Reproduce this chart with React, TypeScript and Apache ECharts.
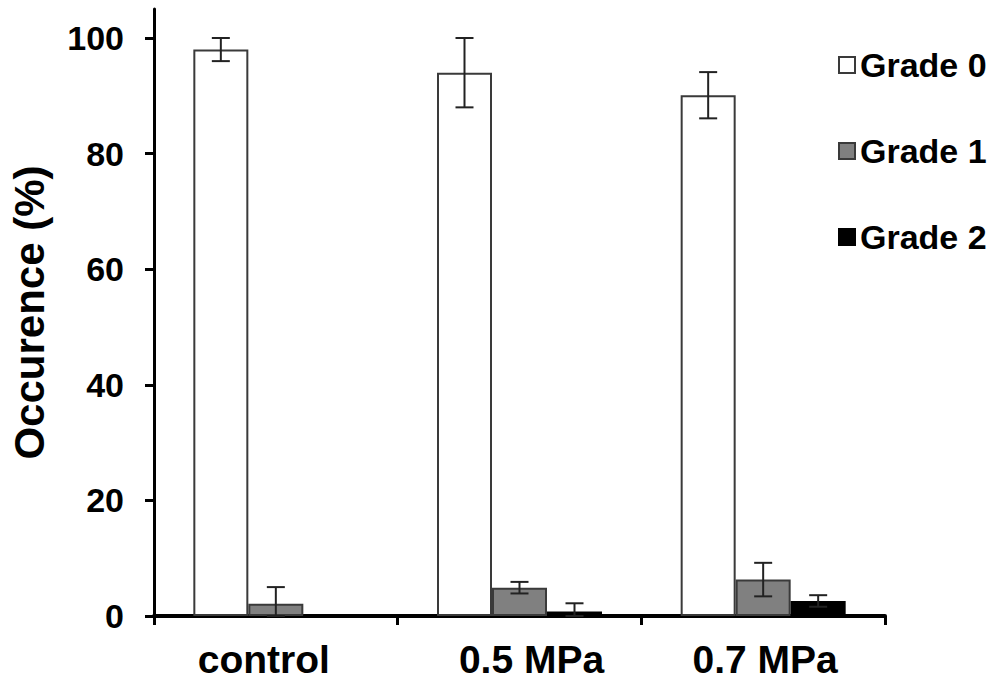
import React, { useEffect, useRef } from "react";
import * as echarts from "echarts";

const categories = ["control", "0.5 MPa", "0.7 MPa"];
const seriesNames = ["Grade 0", "Grade 1", "Grade 2"];
const grade0 = [98, 94, 90.1];
const grade1 = [2.1, 4.9, 6.3];
const grade2 = [0, 0.8, 2.6];
const grade0Err = [2, 6, 4];
const grade1Err = [2.9, 1, 2.9];
const grade2Err = [0, 1.4, 1];
const yTicks = [0, 20, 40, 60, 80, 100];

const fills = ["#ffffff", "#808080", "#000000"];
const FONT = "'Liberation Sans', Arial, sans-serif";
const BAR_W = 55;

export default function App() {
  const ref = useRef<HTMLDivElement>(null);
  useEffect(() => {
    if (!ref.current) return;
    const chart = echarts.init(ref.current, null, { renderer: "svg" });
    const values = [grade0, grade1, grade2];
    const errs = [grade0Err, grade1Err, grade2Err];

    const barSeries = seriesNames.map((name, i) => ({
      name,
      type: "bar",
      data: values[i],
      barWidth: BAR_W,
      barGap: "0%",
      itemStyle: {
        color: fills[i],
        borderColor: i === 2 ? "#000" : "#3a3a3a",
        borderWidth: 2,
      },
    }));

    const errSeries = seriesNames.map((name, i) => ({
      name: name + " err",
      type: "custom",
      z: 5,
      data: values[i].map((v, k) => [k, v, errs[i][k]]),
      encode: { x: 0, y: 1 },
      renderItem: (params: any, api: any) => {
        const idx = api.value(0);
        const v = api.value(1);
        const e = api.value(2);
        if (!e) return null;
        const top = api.coord([idx, v + e]);
        const bot = api.coord([idx, Math.max(0, v - e)]);
        const x = top[0] + (i - 1) * BAR_W;
        const cap = 9;
        const st = { stroke: "#222", lineWidth: 2 };
        return {
          type: "group",
          children: [
            { type: "line", shape: { x1: x, y1: top[1], x2: x, y2: bot[1] }, style: st },
            { type: "line", shape: { x1: x - cap, y1: top[1], x2: x + cap, y2: top[1] }, style: st },
            { type: "line", shape: { x1: x - cap, y1: bot[1], x2: x + cap, y2: bot[1] }, style: st },
          ],
        };
      },
    }));

    const xFont = { fontFamily: FONT, fontWeight: "bold", fontSize: 39, color: "#000" };

    chart.setOption({
      animation: false,
      backgroundColor: "#ffffff",
      textStyle: { fontFamily: FONT },
      grid: { left: 150, right: 109, top: 9.1, bottom: 68, containLabel: false },
      legend: {
        data: seriesNames,
        orient: "vertical",
        left: 833,
        top: 43,
        itemGap: 52,
        itemWidth: 16,
        itemHeight: 16,
        icon: "rect",
        textStyle: { fontFamily: FONT, fontWeight: "bold", fontSize: 34, color: "#000" },
      },
      xAxis: {
        type: "category",
        data: categories,
        axisLine: { lineStyle: { color: "#000", width: 4 } },
        axisTick: { show: true, length: 9, lineStyle: { color: "#000", width: 3 } },
        axisLabel: {
          ...xFont,
          interval: 0,
          hideOverlap: false,
          margin: 24,
          formatter: (v: string, i: number) => `{c${i}|${v}}`,
          rich: {
            c0: { ...xFont, padding: [0, 24, 0, 0] },
            c1: { ...xFont, padding: [0, 0, 0, 24] },
            c2: { ...xFont, padding: [0, 0, 0, 4] },
          },
        },
      },
      yAxis: {
        type: "value",
        min: 0,
        max: 105,
        name: "Occurence (%)",
        nameLocation: "middle",
        nameGap: 104,
        nameTextStyle: { fontFamily: FONT, fontWeight: "bold", fontSize: 42, color: "#000" },
        axisLine: { show: true, lineStyle: { color: "#000", width: 3 } },
        axisTick: { show: true, length: 9, customValues: yTicks, lineStyle: { color: "#000", width: 3 } },
        axisLabel: {
          customValues: yTicks,
          fontFamily: FONT,
          fontWeight: "bold",
          fontSize: 34,
          color: "#000",
          margin: 30,
        },
        splitLine: { show: false },
      },
      series: [...barSeries, ...errSeries],
    });
    return () => chart.dispose();
  }, []);
  return (
    <div
      ref={ref}
      style={{ position: "absolute", left: 0, top: 0, width: 994, height: 684 }}
    />
  );
}
